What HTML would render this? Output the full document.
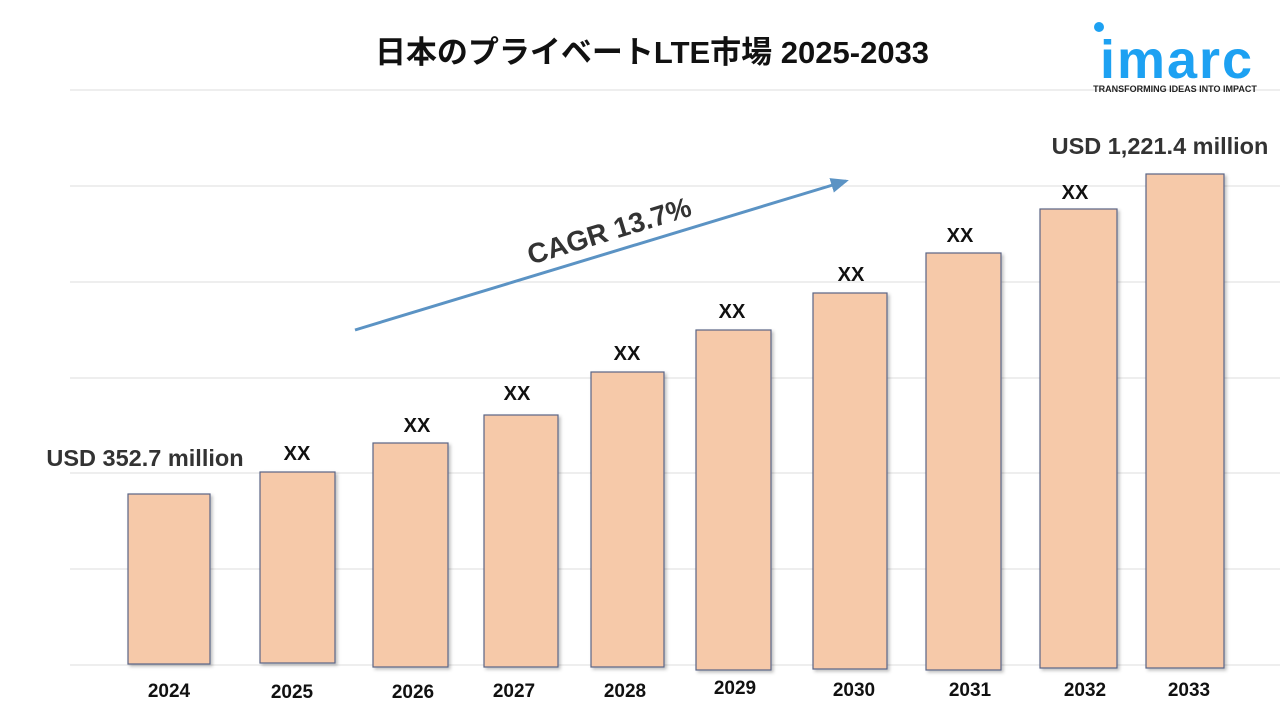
<!DOCTYPE html>
<html><head><meta charset="utf-8"><style>
body{margin:0;background:#fff;}
</style></head><body>
<svg width="1280" height="720" xmlns="http://www.w3.org/2000/svg" font-family="Liberation Sans, Noto Sans CJK JP, sans-serif">
<defs><filter id="s" x="-10%" y="-10%" width="130%" height="130%"><feDropShadow dx="2" dy="2" stdDeviation="1.5" flood-color="#000" flood-opacity="0.25"/></filter>
<marker id="a" markerWidth="6" markerHeight="5" refX="5" refY="2.5" orient="auto" markerUnits="strokeWidth"><path d="M0,0 L6,2.5 L0,5 z" fill="#5b93c4"/></marker></defs>
<text x="652" y="63" text-anchor="middle" font-size="31" font-weight="bold" fill="#111">日本のプライベートLTE市場 2025-2033</text>
<g stroke="#dedede" stroke-width="1">
<line x1="70" y1="90" x2="1280" y2="90"/><line x1="70" y1="186" x2="1280" y2="186"/><line x1="70" y1="282" x2="1280" y2="282"/><line x1="70" y1="378" x2="1280" y2="378"/><line x1="70" y1="473" x2="1280" y2="473"/><line x1="70" y1="569" x2="1280" y2="569"/><line x1="70" y1="665" x2="1280" y2="665"/>
</g>
<g fill="#f6c9a9" stroke="#5a6585" stroke-width="1.2" filter="url(#s)">
<rect x="128" y="494" width="82" height="170"/>
<rect x="260" y="472" width="75" height="191"/>
<rect x="373" y="443" width="75" height="224"/>
<rect x="484" y="415" width="74" height="252"/>
<rect x="591" y="372" width="73" height="295"/>
<rect x="696" y="330" width="75" height="340"/>
<rect x="813" y="293" width="74" height="376"/>
<rect x="926" y="253" width="75" height="417"/>
<rect x="1040" y="209" width="77" height="459"/>
<rect x="1146" y="174" width="78" height="494"/>
</g>
<g font-size="20" font-weight="bold" fill="#111" text-anchor="middle">
<text x="297" y="460">XX</text><text x="417" y="432">XX</text><text x="517" y="400">XX</text><text x="627" y="360">XX</text><text x="732" y="318">XX</text><text x="851" y="281">XX</text><text x="960" y="242">XX</text><text x="1075" y="199">XX</text>
</g>
<g font-size="19" font-weight="bold" fill="#111" text-anchor="middle">
<text x="169" y="697">2024</text><text x="292" y="698">2025</text><text x="413" y="698">2026</text><text x="514" y="697">2027</text><text x="625" y="697">2028</text><text x="735" y="694">2029</text><text x="854" y="696">2030</text><text x="970" y="696">2031</text><text x="1085" y="696">2032</text><text x="1189" y="696">2033</text>
</g>
<text x="145" y="466" text-anchor="middle" font-size="23.5" font-weight="bold" fill="#333">USD 352.7 million</text>
<text x="1160" y="154" text-anchor="middle" font-size="23.5" font-weight="bold" fill="#333">USD 1,221.4 million</text>
<line x1="355" y1="330" x2="846" y2="181" stroke="#5b93c4" stroke-width="3" marker-end="url(#a)"/>
<text x="0" y="0" transform="translate(612,240) rotate(-17)" text-anchor="middle" font-size="28" font-weight="bold" fill="#333">CAGR 13.7%</text>
<circle cx="1099" cy="27" r="5" fill="#1da1f2"/>
<text x="1177" y="78" text-anchor="middle" font-size="54" font-weight="bold" fill="#1da1f2" letter-spacing="2">imarc</text>
<text x="1175" y="92" text-anchor="middle" font-size="9" font-weight="bold" fill="#222">TRANSFORMING IDEAS INTO IMPACT</text>
</svg>
</body></html>
